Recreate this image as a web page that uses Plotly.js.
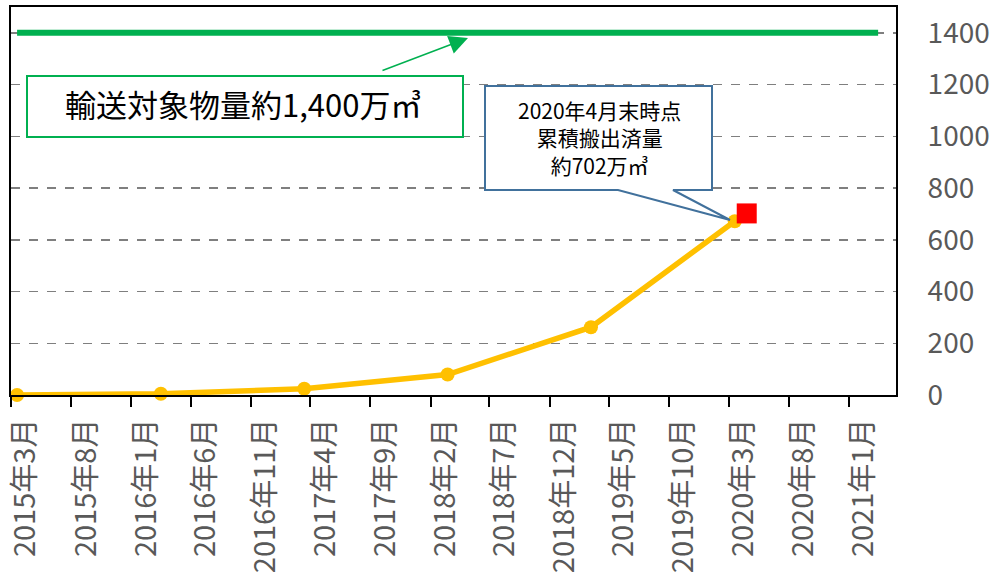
<!DOCTYPE html>
<html>
<head>
<meta charset="utf-8">
<script src="https://cdn.plot.ly/plotly-3.0.1.min.js"></script>
<style>html,body{margin:0;padding:0;background:#fff;}#chart{width:995px;height:578px;}</style>
</head>
<body>
<div id="chart"></div>
<script>
// ---- data ----
const months = ["2015-03", "2016-03", "2017-03", "2018-03", "2019-03", "2020-03"];
const cumulative = [0, 4.6, 24, 79, 262, 672];
const latestMonth = ["2020-04"];
const latestValue = [702];
const targetMonths = ["2015-03", "2021-03"];
const targetValue = [1400, 1400];
const tickLabels = ["2015年3月", "2015年8月", "2016年1月", "2016年6月", "2016年11月", "2017年4月",
  "2017年9月", "2018年2月", "2018年7月", "2018年12月", "2019年5月", "2019年10月",
  "2020年3月", "2020年8月", "2021年1月"];
const yTicks = [0, 200, 400, 600, 800, 1000, 1200, 1400];

const tickVals = tickLabels.map(s => {
  const m = s.match(/(\d+)年(\d+)月/);
  return m[1] + "-" + String(m[2]).padStart(2, "0") + "-01";
});

const FONT = '"Noto Sans CJK JP", "Noto Sans", sans-serif';
const GRAY = "#595959";

const traces = [
  {
    x: targetMonths, y: targetValue, type: "scatter", mode: "lines",
    xperiod: "M1", xperiodalignment: "middle",
    line: {color: "#00B050", width: 6}, hoverinfo: "skip"
  },
  {
    x: months, y: cumulative, type: "scatter", mode: "lines+markers",
    xperiod: "M1", xperiodalignment: "middle",
    line: {color: "#FFC000", width: 5.5},
    marker: {color: "#FFC000", size: 14}, cliponaxis: false
  },
  {
    x: latestMonth, y: latestValue, type: "scatter", mode: "markers",
    xperiod: "M1", xperiodalignment: "middle",
    marker: {color: "#FF0000", size: 20, symbol: "square"}
  }
];

// helpers: pixel -> paper
const L = 11, R = 896, T = 7, B = 395;
const px = v => (v - L) / (R - L);
const py = v => (B - v) / (B - T);

const calloutPath = "M" + px(485) + "," + py(86) + " L" + px(712) + "," + py(86) +
  " L" + px(712) + "," + py(190) + " L" + px(673) + "," + py(190) +
  " L" + px(730) + "," + py(220) + " L" + px(618) + "," + py(190) +
  " L" + px(485) + "," + py(190) + " Z";

const layout = {
  width: 995, height: 578,
  margin: {l: L, r: 995 - R, t: T, b: 578 - B},
  paper_bgcolor: "#fff", plot_bgcolor: "#fff",
  showlegend: false, hovermode: false,
  font: {family: FONT, color: GRAY},
  xaxis: {
    type: "date", range: ["2015-03-01", "2021-05-01"],
    tickmode: "array", tickvals: tickVals, ticktext: tickLabels,
    tickangle: -90, ticks: "outside", ticklen: 10, tickwidth: 2, tickcolor: "#000",
    ticklabelshift: 15, ticklabeloverflow: "allow",
    tickfont: {family: FONT, size: 29, color: GRAY},
    showgrid: false, zeroline: false,
    showline: true, linecolor: "#000", linewidth: 2, mirror: true
  },
  yaxis: {
    side: "right", range: [0, 1500],
    tickmode: "array", tickvals: yTicks, ticktext: yTicks.map(String),
    ticks: "", ticklabelstandoff: 24,
    tickfont: {family: FONT, size: 28, color: GRAY},
    showgrid: true, gridcolor: "#7F7F7F", gridwidth: 1.5, griddash: "dash",
    zeroline: false,
    showline: true, linecolor: "#000", linewidth: 2, mirror: true
  },
  shapes: [
    {type: "rect", xref: "paper", yref: "paper",
     x0: px(27), x1: px(463), y0: py(76), y1: py(137),
     fillcolor: "#fff", line: {color: "#00B050", width: 2}},
    {type: "path", xref: "paper", yref: "paper", path: calloutPath,
     fillcolor: "#fff", line: {color: "#41719C", width: 2}}
  ],
  annotations: [
    {xref: "paper", yref: "paper", x: px(243), y: py(103),
     xanchor: "center", yanchor: "middle",
     text: "輸送対象物量約1,400万㎥", showarrow: false,
     font: {family: FONT, size: 31, color: "#000"}},
    {xref: "paper", yref: "paper", x: px(468), y: py(38),
     ax: -87, ay: 33, text: "", showarrow: true,
     arrowhead: 2, arrowsize: 2.5, arrowwidth: 1.5, arrowcolor: "#00B050"},
    {xref: "paper", yref: "paper", x: px(599), y: py(137),
     xanchor: "center", yanchor: "middle",
     text: "2020年4月末時点<br>累積搬出済量<br>約702万㎥", showarrow: false,
     font: {family: FONT, size: 21, color: "#000"}}
  ]
};

Plotly.newPlot("chart", traces, layout, {displayModeBar: false, staticPlot: true});
</script>
</body>
</html>
